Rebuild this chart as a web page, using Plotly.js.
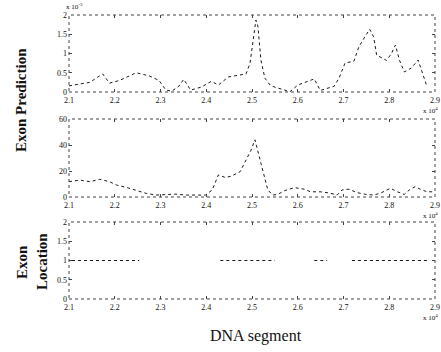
<!DOCTYPE html>
<html>
<head>
<meta charset="utf-8">
<script src="https://cdn.plot.ly/plotly-3.0.1.min.js"></script>
<style>html,body{margin:0;padding:0;background:#fff;}#chart{width:441px;height:352px;}</style>
</head>
<body>
<div id="chart"></div>
<script>
// DNA position (bp)
const xTickVals = [21000, 22000, 23000, 24000, 25000, 26000, 27000, 28000, 29000];
const xTickText = ["2.1", "2.2", "2.3", "2.4", "2.5", "2.6", "2.7", "2.8", "2.9"];

// Panel 1: exon prediction (x 10^-3)
const predX = [21000, 21238, 21454, 21735, 21886, 22103, 22470, 22751, 22968, 23119, 23249, 23400, 23508, 23659, 23897, 24114, 24265, 24481, 24697, 24870, 24957, 25022, 25086, 25130, 25195, 25281, 25411, 25714, 25822, 26000, 26168, 26362, 26492, 26643, 26795, 26903, 27032, 27227, 27335, 27465, 27573, 27659, 27724, 27941, 28049, 28135, 28222, 28330, 28481, 28632, 28741, 28827];
const predY = [0.16, 0.2, 0.25, 0.47, 0.23, 0.3, 0.5, 0.42, 0.3, 0.05, 0.02, 0.15, 0.33, 0.05, 0.13, 0.28, 0.18, 0.39, 0.44, 0.47, 0.75, 1.27, 1.87, 1.7, 0.83, 0.36, 0.16, 0.05, 0.0, 0.18, 0.26, 0.34, 0.04, 0.1, 0.15, 0.36, 0.75, 0.8, 1.17, 1.43, 1.63, 1.43, 0.96, 0.82, 1.0, 1.22, 0.83, 0.52, 0.62, 0.83, 0.44, 0.13];

// Panel 2: second prediction measure
const pred2X = [21000, 21238, 21454, 21670, 21886, 22038, 22254, 22470, 22686, 22903, 23119, 23335, 23551, 23768, 23984, 24130, 24265, 24416, 24546, 24741, 24870, 24978, 25065, 25130, 25195, 25346, 25454, 25562, 25714, 25930, 26146, 26276, 26492, 26708, 26859, 26968, 27119, 27292, 27486, 27659, 27811, 28027, 28178, 28330, 28438, 28568, 28676, 28827, 29000];
const pred2Y = [11.8, 13, 11.8, 13.6, 11.8, 9.2, 7.4, 4.9, 2.8, 1.5, 1.8, 2.2, 1.5, 1.5, 1.5, 5.4, 17, 15, 16, 19.5, 28.5, 36, 44, 36, 26, 5.4, 1.5, 2, 4.9, 7.2, 6, 4, 4, 3, 1.5, 5.4, 6, 3.4, 2, 1.5, 3, 6.7, 4, 2, 5.4, 8, 6, 4, 4];

// Panel 3: exon locations (start, end in bp)
const exonStart = [21065, 24308, 26362, 27184];
const exonEnd = [22535, 25497, 26643, 28870];

const locX = [], locY = [];
for (let i = 0; i < exonStart.length; i++) {
  locX.push(exonStart[i], exonEnd[i], null);
  locY.push(1, 1, null);
}

const lineStyle = {color: '#1a1a1a', width: 1, dash: 'dot'};
const traces = [
  {x: predX, y: predY, xaxis: 'x', yaxis: 'y', mode: 'lines', line: lineStyle, hoverinfo: 'skip'},
  {x: pred2X, y: pred2Y, xaxis: 'x2', yaxis: 'y2', mode: 'lines', line: lineStyle, hoverinfo: 'skip'},
  {x: locX, y: locY, xaxis: 'x3', yaxis: 'y3', mode: 'lines', line: lineStyle, connectgaps: false, hoverinfo: 'skip'}
];

const tickFont = {family: 'Liberation Serif, DejaVu Serif, serif', size: 8, color: '#111'};
const xBase = {
  range: [21000, 29000], tickvals: xTickVals, ticktext: xTickText,
  ticks: 'inside', ticklen: 3, tickcolor: '#444', mirror: 'ticks',
  showgrid: false, zeroline: false, showline: false, tickfont: tickFont,
  domain: [69/441, 435/441], ticklabelstandoff: 2, ticklabeloverflow: 'allow'
};
const yBase = {
  ticks: 'inside', ticklen: 3, tickcolor: '#444', mirror: 'ticks',
  showgrid: false, zeroline: false, showline: false, tickfont: tickFont, ticklabelstandoff: 1,
  ticklabeloverflow: 'allow'
};
const d1 = [1 - 92/352, 1 - 15/352];
const d2 = [1 - 197/352, 1 - 119/352];
const d3 = [1 - 299/352, 1 - 222/352];

const boxLine = {color: '#444', width: 1, dash: 'dot'};
const shapes = [['x', 'y'], ['x2', 'y2'], ['x3', 'y3']].map(([xa, ya]) => ({
  type: 'rect', xref: xa + ' domain', yref: ya + ' domain', x0: 0, x1: 1, y0: 0, y1: 1, line: boxLine
}));

const annFont = {family: 'Liberation Serif, DejaVu Serif, serif', size: 7, color: '#111'};
const labelFont = {family: 'Liberation Serif, DejaVu Serif, serif', size: 15, color: '#111'};
const ann = (text, px, py, xa, ya, font, angle) => ({
  text: text, xref: 'paper', yref: 'paper', x: px/441, y: 1 - py/352,
  xanchor: xa, yanchor: ya, showarrow: false, font: font, textangle: angle || 0
});
const annotations = [
  ann('x 10<sup>-3</sup>', 64, 6, 'left', 'middle', annFont),
  ann('x 10<sup>4</sup>', 440, 110, 'right', 'middle', annFont),
  ann('x 10<sup>4</sup>', 440, 215, 'right', 'middle', annFont),
  ann('x 10<sup>4</sup>', 440, 317, 'right', 'middle', annFont),
  ann('<b>Exon Prediction</b>', 21, 100, 'center', 'middle', labelFont, -90),
  ann('<b>Exon</b>', 22, 262, 'center', 'middle', labelFont, -90),
  ann('<b>Location</b>', 42, 262, 'center', 'middle', labelFont, -90),
  ann('DNA segment', 256, 336, 'center', 'middle', {family: 'Liberation Serif, DejaVu Serif, serif', size: 16, color: '#111'})
];

const layout = {
  width: 441, height: 352, showlegend: false,
  margin: {l: 0, r: 0, t: 0, b: 0},
  paper_bgcolor: '#fff', plot_bgcolor: '#fff',
  xaxis: Object.assign({}, xBase, {anchor: 'y'}),
  xaxis2: Object.assign({}, xBase, {anchor: 'y2'}),
  xaxis3: Object.assign({}, xBase, {anchor: 'y3'}),
  yaxis: Object.assign({}, yBase, {domain: d1, anchor: 'x', range: [0, 2], tickvals: [0, 0.5, 1, 1.5, 2]}),
  yaxis2: Object.assign({}, yBase, {domain: d2, anchor: 'x2', range: [0, 60], tickvals: [0, 20, 40, 60]}),
  yaxis3: Object.assign({}, yBase, {domain: d3, anchor: 'x3', range: [0, 2], tickvals: [0, 0.5, 1, 1.5, 2]}),
  shapes: shapes, annotations: annotations
};

Plotly.newPlot('chart', traces, layout, {displayModeBar: false, staticPlot: true});
</script>
</body>
</html>
